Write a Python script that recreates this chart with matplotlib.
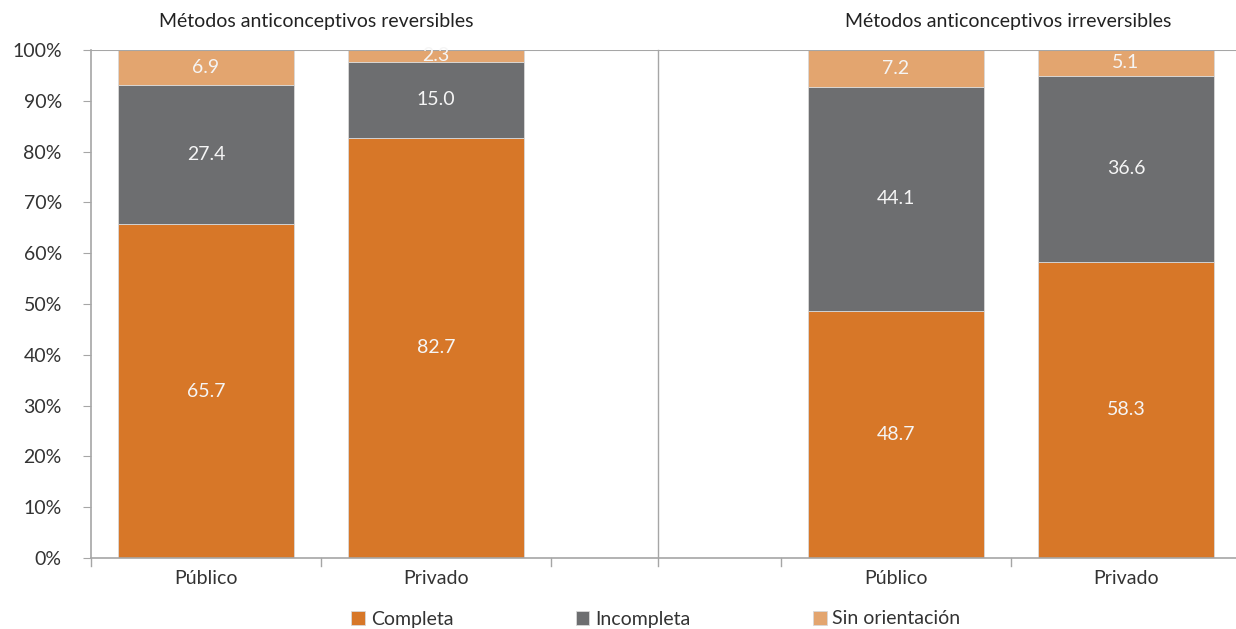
import numpy as np
import matplotlib.pyplot as plt
from matplotlib import font_manager

# pick a narrow face when available
names = {f.name for f in font_manager.fontManager.ttflist}
family = 'Liberation Sans Narrow' if 'Liberation Sans Narrow' in names else 'Lato'
plt.rcParams['font.family'] = [family, 'DejaVu Sans']

categories = ['Público', 'Privado', '', 'Público', 'Privado']
completa = [65.7, 82.7, np.nan, 48.7, 58.3]
incompleta = [27.4, 15.0, np.nan, 44.1, 36.6]
sin_orientacion = [6.9, 2.3, np.nan, 7.2, 5.1]
series = ['Completa', 'Incompleta', 'Sin orientación']
colors = ['#D77728', '#6D6E70', '#E3A56F']
titles = ['Métodos anticonceptivos reversibles', 'Métodos anticonceptivos irreversibles']

FS = 14

fig = plt.figure(figsize=(12.36, 6.29), dpi=100)
ax = fig.add_axes([91 / 1236, 71 / 629, 1 - 91 / 1236, 508 / 629])

x = np.arange(len(categories))
bottom = np.zeros(len(categories))
for name, vals, c in zip(series, [completa, incompleta, sin_orientacion], colors):
    vals = np.array(vals, dtype=float)
    ax.bar(x, vals, 0.765, bottom=bottom, color=c, label=name,
           edgecolor='#D9D9D9', linewidth=0.6)
    for xi, b, v in zip(x, bottom, vals):
        if np.isnan(v):
            continue
        ax.text(xi, b + v / 2, f'{v:.1f}', ha='center', va='center',
                color='#F5F5F5', fontsize=FS)
    bottom = bottom + np.nan_to_num(vals)

ax.set_ylim(0, 100)
ax.set_xlim(-0.5, -0.5 + (1236 - 91) / 230)
ax.set_yticks(np.arange(0, 101, 10))
ax.set_yticklabels([f'{v}%' for v in range(0, 101, 10)], fontsize=FS, color='#333333')
ax.set_xticks(x)
ax.set_xticklabels(categories, fontsize=FS, color='#333333')
ax.tick_params(axis='x', length=0, pad=9)
ax.tick_params(axis='y', length=6, color='#A6A6A6', pad=15)

# boundary ticks between categories
for b in [-0.5, 0.5, 1.5, 2.5, 3.5]:
    ax.plot([b, b], [0, -1.6], color='#A6A6A6', lw=1, clip_on=False)

# separator between the two panels
sep = (658 - 91) / 230 - 0.5
ax.plot([sep, sep], [-1.6, 100], color='#A6A6A6', lw=1, clip_on=False)

ax.axhline(100, color='#A6A6A6', lw=1.5)
for s in ['top', 'right']:
    ax.spines[s].set_visible(False)
for s in ['left', 'bottom']:
    ax.spines[s].set_color('#A6A6A6')
    ax.spines[s].set_linewidth(1.2)

fig.text(316 / 1236, 1 - 22 / 629, titles[0], ha='center', va='center', fontsize=FS, color='#222222')
fig.text(1008 / 1236, 1 - 22 / 629, titles[1], ha='center', va='center', fontsize=FS, color='#222222')

fig.legend(loc='center', bbox_to_anchor=(656 / 1236, 1 - 619 / 629), ncol=3, frameon=False,
           fontsize=FS, handlelength=0.7, handleheight=0.7, handletextpad=0.3,
           columnspacing=6.3, labelcolor='#333333')

fig.savefig('out.png', dpi=100)
